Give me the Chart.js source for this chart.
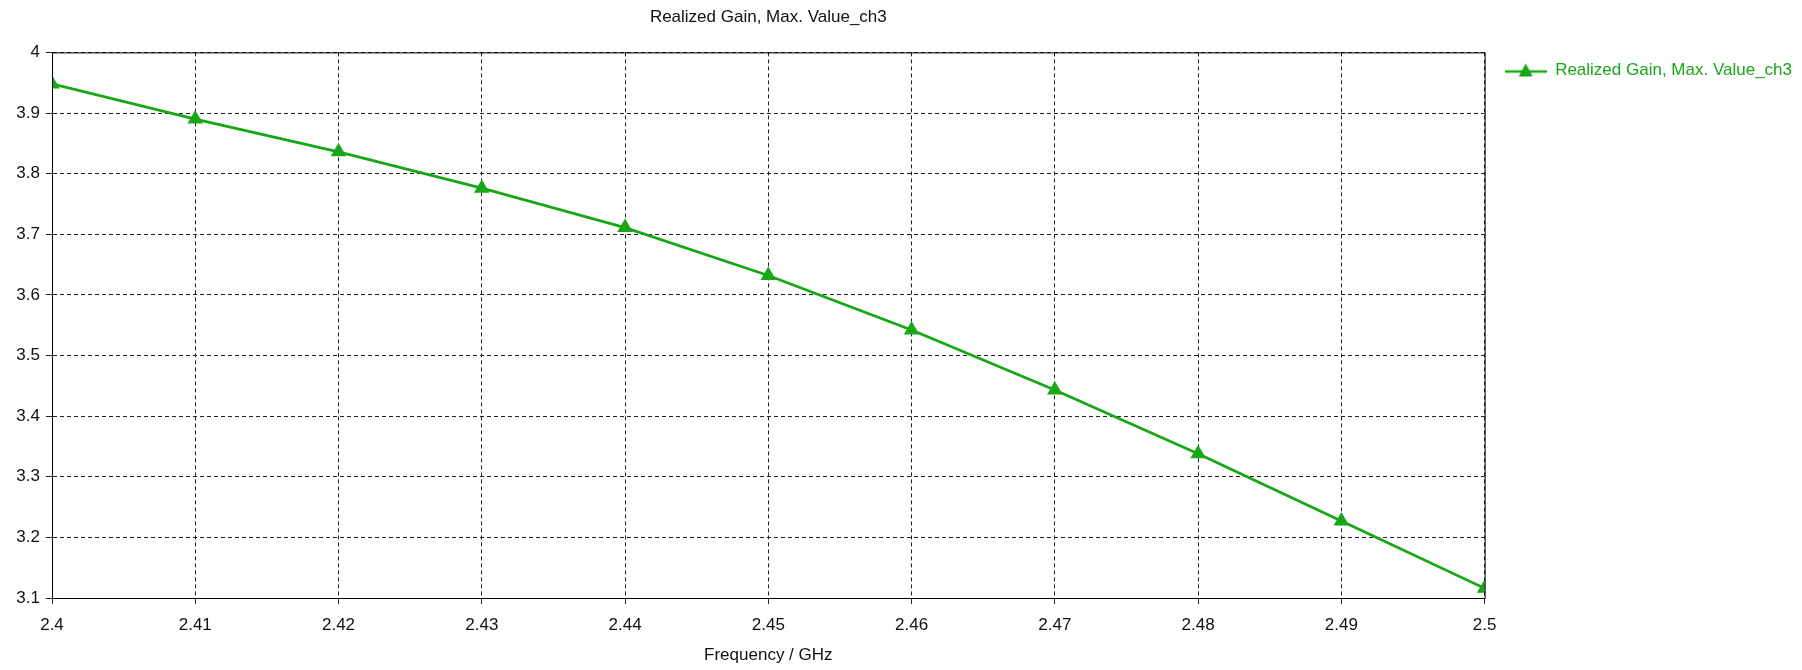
<!DOCTYPE html>
<html>
<head>
<meta charset="utf-8">
<script src="https://cdn.jsdelivr.net/npm/chart.js@4/dist/chart.umd.min.js"></script>
<style>
  html, body { margin: 0; padding: 0; background: #fff; }
  #wrap { width: 1802px; height: 670px; }
</style>
</head>
<body>
<div id="wrap"><canvas id="myChart" width="1802" height="670"></canvas></div>
<script>
// frequency points (GHz) and realized gain
const freqs = [2.40, 2.41, 2.42, 2.43, 2.44, 2.45, 2.46, 2.47, 2.48, 2.49, 2.50];
const gain = [3.948, 3.890, 3.836, 3.776, 3.711, 3.632, 3.542, 3.443, 3.338, 3.227, 3.116];
const seriesName = 'Realized Gain, Max. Value_ch3';
const xTitle = 'Frequency / GHz';

const green = '#17a717';
const font = 'Tahoma, "Liberation Sans", Arial, sans-serif';

// legend symbol: line with triangle in the middle
let makeLegendIcon = () => {
    const c = document.createElement('canvas');
    c.width = 42;
    c.height = 18;
    const g = c.getContext('2d');
    g.strokeStyle = green;
    g.lineWidth = 2.5;
    g.beginPath();
    g.moveTo(0, 10);
    g.lineTo(42, 10);
    g.stroke();
    g.fillStyle = green;
    g.beginPath();
    g.moveTo(21, 2);
    g.lineTo(28, 15);
    g.lineTo(14, 15);
    g.closePath();
    g.fill();
    return c;
};

// solid box around the plot area
const frame = {
    id: 'frame',
    afterDraw(chart) {
        const { ctx, chartArea: a } = chart;
        ctx.save();
        ctx.strokeStyle = '#000';
        ctx.lineWidth = 1;
        ctx.strokeRect(a.left + 0.5, a.top + 0.5, a.right - a.left, a.bottom - a.top);
        ctx.restore();
    }
};

const icon = makeLegendIcon();

new Chart(document.getElementById('myChart'), {
    type: 'line',
    data: {
        datasets: [{
            label: seriesName,
            data: freqs.map((f, i) => ({ x: f, y: gain[i] })),
            borderColor: green,
            backgroundColor: green,
            borderWidth: 2.8,
            pointStyle: 'triangle',
            pointRadius: 9,
            pointHoverRadius: 9,
            pointBorderWidth: 0,
            tension: 0
        }]
    },
    options: {
        responsive: false,
        animation: false,
        layout: { padding: { left: 0, right: 0, top: 0, bottom: 0 } },
        scales: {
            x: {
                type: 'linear',
                min: 2.4,
                max: 2.5,
                afterFit: (s) => { s.height = 72; },
                ticks: {
                    stepSize: 0.01,
                    color: '#111',
                    font: { family: font, size: 17 },
                    padding: 11,
                    maxRotation: 0,
                    callback: (v) => parseFloat(v.toFixed(2)).toString()
                },
                grid: {
                    color: '#222',
                    tickColor: '#222',
                    tickLength: 6,
                    tickBorderDash: [],
                    drawOnChartArea: true
                },
                border: { display: true, color: '#000', width: 1, dash: [4, 3] },
                title: {
                    display: true,
                    text: xTitle,
                    color: '#111',
                    font: { family: font, size: 17 },
                    padding: { top: 2, bottom: 4 }
                }
            },
            y: {
                min: 3.1,
                max: 4,
                afterFit: (s) => { s.width = 52; },
                ticks: {
                    stepSize: 0.1,
                    color: '#111',
                    font: { family: font, size: 17 },
                    padding: 6,
                    callback: (v) => parseFloat(v.toFixed(1)).toString()
                },
                grid: {
                    color: '#222',
                    tickColor: '#222',
                    tickLength: 6,
                    tickBorderDash: []
                },
                border: { display: true, color: '#000', width: 1, dash: [4, 3] }
            }
        },
        plugins: {
            title: {
                display: true,
                text: seriesName,
                fullSize: false,
                color: '#111',
                font: { family: font, size: 17, weight: 'normal' },
                padding: { top: 7, bottom: 25 }
            },
            legend: {
                display: true,
                position: 'right',
                align: 'start',
                title: {
                    display: true,
                    text: ' ',
                    font: { size: 10 },
                    padding: { top: 30, bottom: 0 }
                },
                labels: {
                    color: green,
                    font: { family: font, size: 17 },
                    usePointStyle: true,
                    pointStyleWidth: 42,
                    padding: 20,
                    generateLabels: (chart) => [{
                        text: seriesName,
                        fontColor: green,
                        pointStyle: icon,
                        strokeStyle: green,
                        fillStyle: green,
                        lineWidth: 0,
                        datasetIndex: 0
                    }]
                }
            },
            tooltip: { enabled: false }
        }
    },
    plugins: [frame]
});
</script>
</body>
</html>
